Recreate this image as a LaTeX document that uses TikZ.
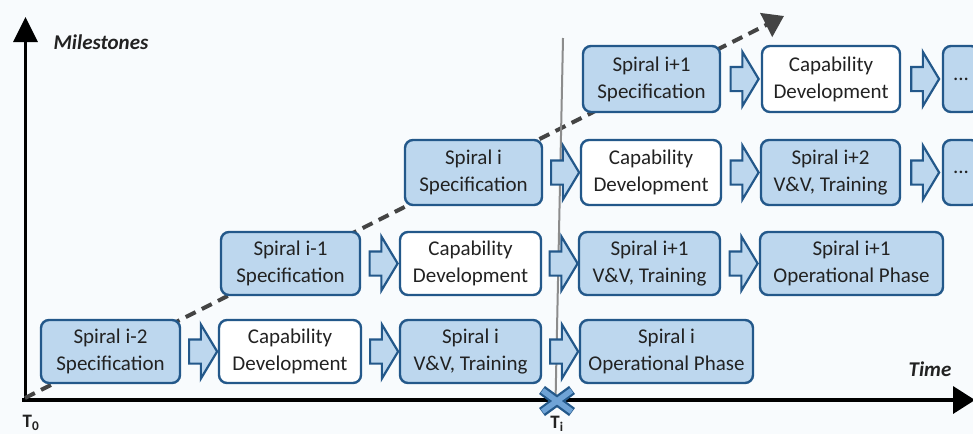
\documentclass[tikz,border=0pt]{standalone}
\usepackage{fontspec}
\setmainfont{Carlito}
\usetikzlibrary{shapes.arrows,arrows.meta,calc}
\definecolor{bgc}{HTML}{F8FBFD}
\definecolor{boxfill}{HTML}{BDD7EE}
\definecolor{boxline}{HTML}{23588A}
\definecolor{crossfill}{HTML}{6FA3D6}
\definecolor{txt}{HTML}{222222}
\definecolor{dashc}{HTML}{444444}
\definecolor{vline}{HTML}{8C8C8C}
\tikzset{
  stage/.style={draw=boxline, line width=2.4pt, rounded corners=8pt, fill=boxfill,
    align=center, text=txt, font=\fontsize{21}{27}\selectfont, inner sep=0pt},
  devbox/.style={stage, fill=white},
  flow/.style={single arrow, draw=boxline, line width=2.2pt, fill=boxfill,
    minimum height=28pt, inner xsep=0pt, inner ysep=11pt,
    single arrow head extend=15pt, single arrow tip angle=118, anchor=center},
  axis/.style={line width=3.5pt, black},
  axlabel/.style={font=\fontsize{21}{24}\selectfont\bfseries\itshape, text=txt, inner sep=0pt},
  tlabel/.style={font=\fontsize{19}{22}\selectfont\bfseries, text=txt, inner sep=0pt},
}
\begin{document}
\begin{tikzpicture}[x=1pt,y=-1pt]
\useasboundingbox (0,0) rectangle (973,434);
\clip (0,0) rectangle (973,434);
\fill[bgc] (0,0) rectangle (973,434);

% axes
\coordinate (O) at (25.5,400);
\coordinate (Ytop) at (25.5,17);
\coordinate (Ybot) at (25.5,402);
\coordinate (Xstart) at (22,400);
\coordinate (Xend) at (975,400);
\draw[axis, -{Triangle[length=25pt,width=24pt]}] (Ybot) -- (Ytop);
\draw[axis, -{Triangle[length=22pt,width=27pt]}] (Xstart) -- (Xend);

% dashed milestone line
\coordinate (Dstart) at (25,398);
\coordinate (Dend) at (784,16);
\draw[dashc, line width=4pt, dash pattern=on 11pt off 7pt, -{Triangle[length=20pt,width=26pt]}] (Dstart) -- (Dend);

% vertical line at T_i
\coordinate (Vtop) at (563,38);
\coordinate (Vbot) at (555.5,402);
\draw[vline, line width=2pt] (Vtop) -- (Vbot);

% row 1
\node[stage, minimum width=139pt, minimum height=63pt] (a1) at (110.5,351.5) {Spiral i-2\\Specification};
\node[devbox, minimum width=142pt, minimum height=63pt] (a2) at (290,351.5) {Capability\\Development};
\node[stage, minimum width=141pt, minimum height=63pt] (a3) at (470.5,351.5) {Spiral i\\V\&V, Training};
\node[stage, minimum width=173pt, minimum height=63pt] (a4) at (666.5,351.5) {Spiral i\\Operational Phase};
% row 2
\node[stage, minimum width=139pt, minimum height=63pt] (b1) at (290.5,263.5) {Spiral i-1\\Specification};
\node[devbox, minimum width=141pt, minimum height=63pt] (b2) at (470.5,263.5) {Capability\\Development};
\node[stage, minimum width=141pt, minimum height=63pt] (b3) at (649.5,263.5) {Spiral i+1\\V\&V, Training};
\node[stage, minimum width=183pt, minimum height=63pt] (b4) at (851.5,263.5) {Spiral i+1\\Operational Phase};
% row 3
\node[stage, minimum width=137pt, minimum height=65pt] (c1) at (473.5,172.5) {Spiral i\\Specification};
\node[devbox, minimum width=140pt, minimum height=65pt] (c2) at (651,172.5) {Capability\\Development};
\node[stage, minimum width=139pt, minimum height=65pt] (c3) at (830.5,172.5) {Spiral i+2\\V\&V, Training};
\node[stage, minimum width=36pt, minimum height=65pt] (c4) at (961,172.5) {...};
% row 4
\node[stage, minimum width=137pt, minimum height=66pt] (d1) at (651.5,79) {Spiral i+1\\Specification};
\node[devbox, minimum width=138pt, minimum height=66pt] (d2) at (831,79) {Capability\\Development};
\node[stage, minimum width=36pt, minimum height=66pt] (d3) at (961,79) {...};

% block arrows
\node[flow] (fa1) at ($(a1.east)!0.5!(a2.west)$) {};
\node[flow] (fa2) at ($(a2.east)!0.5!(a3.west)$) {};
\node[flow] (fa3) at ($(a3.east)!0.5!(a4.west)$) {};
\node[flow] (fb1) at ($(b1.east)!0.5!(b2.west)$) {};
\node[flow] (fb2) at ($(b2.east)!0.5!(b3.west)$) {};
\node[flow] (fb3) at ($(b3.east)!0.5!(b4.west)$) {};
\node[flow] (fc1) at ($(c1.east)!0.5!(c2.west)$) {};
\node[flow] (fc2) at ($(c2.east)!0.5!(c3.west)$) {};
\node[flow] (fc3) at ($(c3.east)!0.5!(c4.west)$) {};
\node[flow] (fd1) at ($(d1.east)!0.5!(d2.west)$) {};
\node[flow] (fd2) at ($(d2.east)!0.5!(d3.west)$) {};

% cross at T_i
\coordinate (X) at (557,401);
\draw[boxline, line width=10pt] ($(X)+(-15,-11)$) -- ($(X)+(15,11)$) ($(X)+(-15,11)$) -- ($(X)+(15,-11)$);
\draw[crossfill, line width=5.5pt] ($(X)+(-14.5,-10.5)$) -- ($(X)+(14.5,10.5)$) ($(X)+(-14.5,10.5)$) -- ($(X)+(14.5,-10.5)$);

% labels
\node[axlabel] (ms) at (101,42) {Milestones};
\node[axlabel] (tm) at (930,369) {Time};
\node[tlabel] (t0) at (31,423) {T\textsubscript{0}};
\node[tlabel] (ti) at (557,424) {T\textsubscript{i}};
\end{tikzpicture}
\end{document}
